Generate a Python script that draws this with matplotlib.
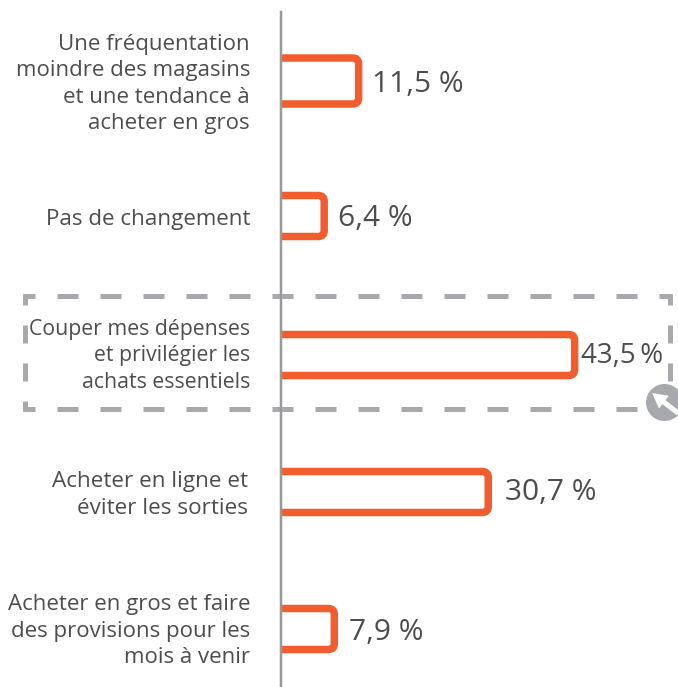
"""Bar chart of outlined percentage bars, with a dashed highlight box."""

import matplotlib
matplotlib.use("Agg")
import matplotlib.pyplot as plt
from matplotlib.path import Path
from matplotlib.patches import PathPatch

# ---------------------------------------------------------------------------
# Data
# ---------------------------------------------------------------------------

labels = [
    "Une fréquentation\nmoindre des magasins\net une tendance à\nacheter en gros",
    "Pas de changement",
    "Couper mes dépenses\net privilégier les\nachats essentiels",
    "Acheter en ligne et\néviter les sorties",
    "Acheter en gros et faire\ndes provisions pour les\nmois à venir",
]
values = [11.5, 6.4, 43.5, 30.7, 7.9]
value_labels = ["11,5 %", "6,4 %", "43,5 %", "30,7 %", "7,9 %"]

# ---------------------------------------------------------------------------
# Style
# ---------------------------------------------------------------------------

W, H = 678, 687
AXIS_X = 281
PX_PER_UNIT = 6.75
ORANGE = "#f15d2f"
GREY = "#a7a9ac"
TEXT = "#4d4d4f"
HIGHLIGHT = 2

centers = [81, 216, 355, 492, 629]
heights = [46, 41, 41, 41, 41]
label_right = [250, 250, 250, 248, 250]
label_dy = [3, 4, 1, 3, 2]
label_size = [16, 16.1, 15.3, 16.2, 16]
value_dx = [13.5, 13.5, 6, 16.5, 14.5]
value_dy = [4, 3, 1, 1, 3]
value_size = [21.5, 21.5, 20, 21.5, 21.5]

plt.rcParams["font.family"] = ["Open Sans", "DejaVu Sans"]

fig = plt.figure(figsize=(W / 100, H / 100), dpi=100)
ax = fig.add_axes([0, 0, 1, 1])
ax.set_xlim(-AXIS_X / PX_PER_UNIT, (W - AXIS_X) / PX_PER_UNIT)
ax.set_ylim(H, 0)
ax.axis("off")


def px(n):
    return n * 0.72


def to_x(n):
    # pixel column to data units on the x axis
    return (n - AXIS_X) / PX_PER_UNIT


# highlight box, each side has its own dash phase so the corners join up
box_lw = 5
h_dash = (9 / box_lw, (21 / box_lw, 22 / box_lw))
v_dash = (7 / box_lw, (18 / box_lw, 20 / box_lw))
for y in [296, 409]:
    ax.plot([to_x(23), to_x(672)], [y, y], color=GREY, lw=px(box_lw), ls=h_dash,
            dash_capstyle="butt", zorder=1)
for x in [25.5, 669.5]:
    ax.plot([to_x(x), to_x(x)], [294, 411], color=GREY, lw=px(box_lw), ls=v_dash,
            dash_capstyle="butt", zorder=1)

# axis line
ax.plot([0, 0], [12, 686], color="#98999b", lw=px(2.5), zorder=3)

# bars, open on the axis side
r = 6
rx = r / PX_PER_UNIT
for v, c, h in zip(values, centers, heights):
    top, bot = c - h / 2, c + h / 2
    verts = [
        (0, top), (v - rx, top), (v, top), (v, top + r),
        (v, bot - r), (v, bot), (v - rx, bot), (0, bot),
    ]
    codes = [
        Path.MOVETO, Path.LINETO, Path.CURVE3, Path.CURVE3,
        Path.LINETO, Path.CURVE3, Path.CURVE3, Path.LINETO,
    ]
    ax.add_patch(PathPatch(Path(verts, codes), fill=False, ec=ORANGE, lw=px(7.5),
                           capstyle="butt", zorder=2))

# text
for i, (lab, v, vl, c) in enumerate(zip(labels, values, value_labels, centers)):
    ax.text(to_x(label_right[i]), c + label_dy[i], lab, ha="right", va="center",
            fontsize=label_size[i], color=TEXT, linespacing=1.33, zorder=4)
    shown = vl.replace(" ", "\u2009") if i == HIGHLIGHT else vl
    ax.text(v + value_dx[i] / PX_PER_UNIT, c + value_dy[i], shown, ha="left", va="center",
            fontsize=value_size[i], color=TEXT, zorder=4)

# badge with arrow
ax.plot([to_x(663.5)], [401.5], "o", ms=px(37), color=GREY, mec="none", zorder=5)
ax.annotate(
    "", xy=(to_x(652), 393), xytext=(to_x(678), 413),
    arrowprops=dict(width=px(5), headwidth=px(16), headlength=px(15), color="white",
                    shrink=0, lw=0),
    zorder=6,
)

fig.savefig("out.png", dpi=100)
